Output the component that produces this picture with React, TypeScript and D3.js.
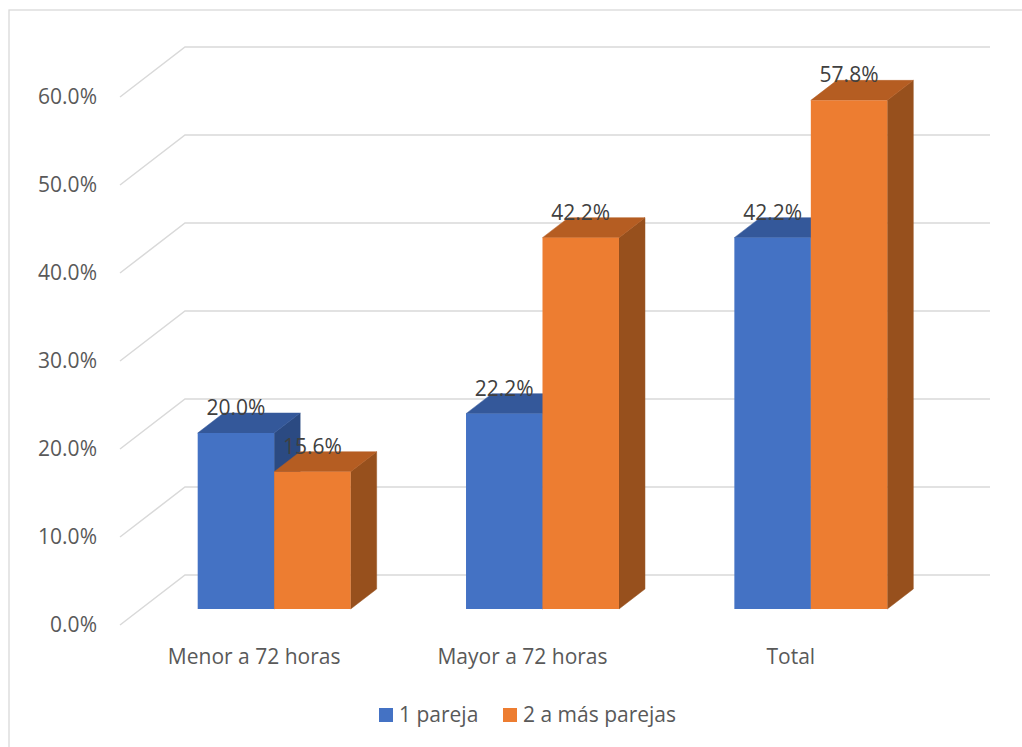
import React from "react";
import * as d3 from "d3";

const categories = ["Menor a 72 horas", "Mayor a 72 horas", "Total"];
const seriesNames = ["1 pareja", "2 a más parejas"];
const serie1 = [20.0, 22.2, 42.2];
const serie2 = [15.6, 42.2, 57.8];
const yTicks = [0, 10, 20, 30, 40, 50, 60];

const colors = [
  { front: "#4472C4", top: "#34589A", side: "#2B4A82" },
  { front: "#ED7D31", top: "#B55D22", side: "#97501D" },
];

export default function App() {
  const W = 1022;
  const H = 747;
  const frontLeft = 120;
  const frontRight = 925;
  const frontBase = 625;
  const floorDX = 65;
  const floorDY = -50;
  const barDX0 = 20, barDY0 = -16;
  const barDX = 26, barDY = -20;

  const y = d3.scaleLinear().domain([0, 60]).range([frontBase, frontBase - 528]);
  const xBand = d3.scaleBand<string>().domain(categories).range([frontLeft, frontRight]).paddingInner(0).paddingOuter(0);
  const groupW = xBand.bandwidth() * 0.57;
  const xInner = d3.scaleBand<string>().domain(seriesNames).range([0, groupW]).padding(0);

  const series = [serie1, serie2];
  const font = "'Open Sans', 'DejaVu Sans', sans-serif";
  const fs = 21;

  const bars: any[] = [];
  const labels: any[] = [];
  categories.forEach((c, i) => {
    const gx = xBand(c)! + (xBand.bandwidth() - groupW) / 2;
    seriesNames.forEach((s, j) => {
      const v = series[j][i];
      const x0 = gx + xInner(s)! + barDX0;
      const x1 = x0 + xInner.bandwidth();
      const yb = y(0) + barDY0;
      const yt = y(v) + barDY0;
      const col = colors[j];
      const side = `${x1},${yb} ${x1 + barDX},${yb + barDY} ${x1 + barDX},${yt + barDY} ${x1},${yt}`;
      const top = `${x0},${yt} ${x0 + barDX},${yt + barDY} ${x1 + barDX},${yt + barDY} ${x1},${yt}`;
      bars.push(
        <g key={`b${i}-${j}`}>
          <polygon points={side} fill={col.side} stroke={col.side} strokeWidth={0.5} />
          <polygon points={top} fill={col.top} stroke={col.top} strokeWidth={0.5} />
          <rect x={x0} y={yt} width={x1 - x0} height={yb - yt} fill={col.front} />
        </g>
      );
      labels.push(
        <text key={`l${i}-${j}`} x={(x0 + x1) / 2} y={yt - 18} textAnchor="middle" fontSize={fs} fill="#404040" fontFamily={font}>
          {v.toFixed(1)}%
        </text>
      );
    });
  });

  return (
    <svg width={W} height={H} style={{ position: "absolute", left: 0, top: 0, background: "#fff" }}>
      <rect x={9} y={10} width={1030} height={760} fill="#fff" stroke="#D9D9D9" strokeWidth={1.3} />
      {yTicks.map((t) => (
        <g key={t}>
          <polyline
            points={`${frontLeft},${y(t)} ${frontLeft + floorDX},${y(t) + floorDY} ${frontRight + floorDX},${y(t) + floorDY}`}
            fill="none"
            stroke="#D9D9D9"
            strokeWidth={1.5}
          />
          <text x={97} y={y(t)} dy="0.35em" textAnchor="end" fontSize={fs} fill="#595959" fontFamily={font}>
            {t.toFixed(1)}%
          </text>
        </g>
      ))}
      {bars}
      {labels}
      {categories.map((c) => (
        <text key={c} x={xBand(c)! + xBand.bandwidth() / 2} y={657} dy="0.35em" textAnchor="middle" fontSize={fs} fill="#595959" fontFamily={font}>
          {c}
        </text>
      ))}
      <g>
        <rect x={379} y={708} width={14} height={14} fill={colors[0].front} />
        <text x={399} y={715} dy="0.35em" fontSize={fs} fill="#595959" fontFamily={font}>{seriesNames[0]}</text>
        <rect x={503} y={708} width={14} height={14} fill={colors[1].front} />
        <text x={523} y={715} dy="0.35em" fontSize={fs} fill="#595959" fontFamily={font}>{seriesNames[1]}</text>
      </g>
    </svg>
  );
}
